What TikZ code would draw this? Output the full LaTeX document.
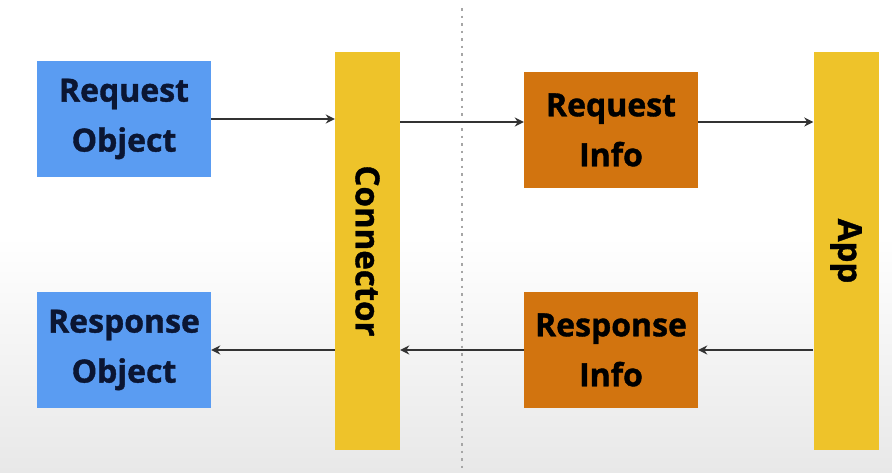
\documentclass[tikz,border=0pt]{standalone}
\usepackage{fontspec}
\setmainfont{Open Sans}[BoldFeatures={FakeBold=1.2}]
\usetikzlibrary{arrows.meta}
\definecolor{bluebox}{HTML}{5A9CF2}
\definecolor{orangebox}{HTML}{D2740F}
\definecolor{yellowbar}{HTML}{EEC32A}
\definecolor{navytext}{HTML}{0B1633}
\definecolor{linegray}{HTML}{333333}
\tikzset{
  box/.style={rectangle, draw=none, minimum width=174pt, minimum height=116pt, align=center, font=\bfseries\fontsize{32}{50}\selectfont, inner sep=0pt},
  bluebx/.style={box, fill=bluebox, text=navytext},
  orangebx/.style={box, fill=orangebox, text=black},
  bar/.style={rectangle, draw=none, fill=yellowbar, minimum width=65pt, minimum height=398pt, inner sep=0pt},
  bartext/.style={font=\bfseries\fontsize{33}{40}\selectfont, rotate=-90, text=black},
  conn/.style={draw=linegray, line width=2.6pt, -{Stealth[length=9pt,width=9pt]}}
}
\begin{document}
\begin{tikzpicture}[x=1pt,y=-1pt]
\useasboundingbox (0,0) rectangle (892,472);
\fill[white] (0,0) rectangle (892,472);
\shade[top color=white, bottom color=black!9] (0,236) rectangle (892,472);
\draw[gray!70, line width=1.4pt, dash pattern=on 2.5pt off 5pt] (462,8) -- (462,472);
\node[bluebx] (reqobj) at (124,119) {Request\\Object};
\node[bluebx] (resobj) at (124,350) {Response\\Object};
\node[orangebx] (reqinfo) at (611,130) {Request\\Info};
\node[orangebx] (resinfo) at (611,350) {Response\\Info};
\node[bar] (connector) at (367.5,251) {};
\node[bartext] at (connector.center) {Connector};
\node[bar] (app) at (846,251) {};
\node[bartext] at (app.center) {App};
\coordinate (c1) at (connector.west |- reqobj.east);
\draw[conn] (reqobj.east) -- (c1);
\coordinate (c2) at (connector.east |- 0,122);
\coordinate (r2) at (reqinfo.west |- 0,122);
\draw[conn] (c2) -- (r2);
\coordinate (r3) at (reqinfo.east |- 0,122);
\coordinate (a3) at (app.west |- 0,122);
\draw[conn] (r3) -- (a3);
\coordinate (a4) at (app.west |- resinfo.east);
\draw[conn] (a4) -- (resinfo.east);
\coordinate (c5) at (connector.east |- resinfo.west);
\draw[conn] (resinfo.west) -- (c5);
\coordinate (c6) at (connector.west |- resobj.east);
\draw[conn] (c6) -- (resobj.east);
\end{tikzpicture}
\end{document}
